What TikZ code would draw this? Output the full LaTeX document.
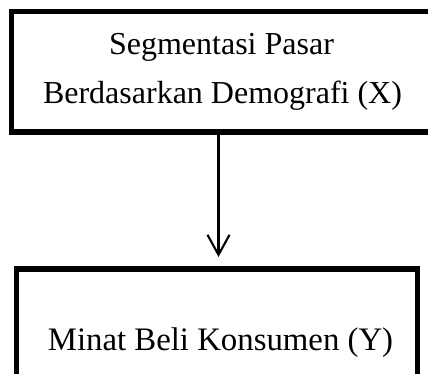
\documentclass[tikz,border=0pt]{standalone}
\usepackage{fontspec}
\setmainfont{Liberation Serif}
\usetikzlibrary{arrows.meta}
\begin{document}
\begin{tikzpicture}[x=1pt,y=-1pt,
  boxstyle/.style={draw=black,line width=5.5pt,inner sep=0pt,outer sep=0pt,fill=none},
  txt/.style={anchor=base,inner sep=0pt,font=\fontsize{32}{38}\selectfont},
  conn/.style={draw=black,line width=2.1pt,-{Straight Barb[length=20pt,width=22pt,line width=2.1pt]}}]
\useasboundingbox (0,0) rectangle (428,374);
\node[boxstyle,minimum width=428.5pt,minimum height=120.5pt] (top) at (225.75,71.75) {};
\node[boxstyle,minimum width=401.4pt,minimum height=121pt] (bot) at (217,329.5) {};
\node[txt] (t1) at (221.5,54.3) {Segmentasi Pasar};
\node[txt] (t2) at (222.5,103.3) {Berdasarkan Demografi (X)};
\node[txt,font=\fontsize{32.8}{39}\selectfont] (t3) at (220.5,350) {Minat Beli Konsumen (Y)};
\coordinate (aend) at ([xshift=1.5pt,yshift=12pt]bot.north);
\draw[conn] (top.south -| aend) -- (aend);
\end{tikzpicture}
\end{document}
